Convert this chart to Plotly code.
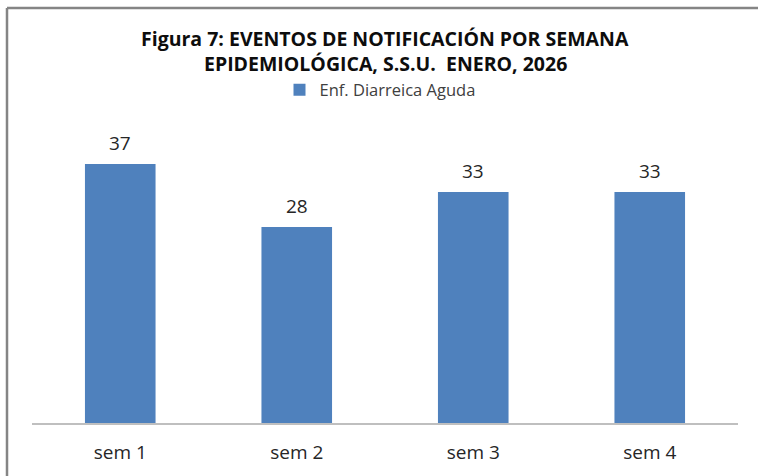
import plotly.graph_objects as go

categories = ["sem 1", "sem 2", "sem 3", "sem 4"]
values = [37, 28, 33, 33]
series_name = "Enf. Diarreica Aguda"
title_lines = ["Figura 7: EVENTOS DE NOTIFICACIÓN POR SEMANA", "EPIDEMIOLÓGICA, S.S.U.  ENERO, 2026"]

W, H = 758, 476
L, R, T, B = 32, 20, 143, 53
pw, ph = W - L - R, H - T - B
FONT = "Open Sans, sans-serif"


def py(y):
    return 1 + (T - y) / ph


def px(x):
    return (x - L) / pw


fig = go.Figure()
fig.add_trace(go.Bar(
    x=categories, y=values, name=series_name,
    marker=dict(color="#4f81bd", line=dict(width=0)),
    hoverinfo="x+y",
))

annotations = []
for c, v in zip(categories, values):
    annotations.append(dict(text=str(v), x=c, y=v, xref="x", yref="y",
                            xanchor="center", yanchor="middle", yshift=21,
                            showarrow=False,
                            font=dict(family=FONT, size=19, color="#262626")))
for line, yc in zip(title_lines, [38, 63]):
    annotations.append(dict(text="<b>" + line + "</b>", xref="paper", yref="paper",
                            x=px(385), y=py(yc), xanchor="center", yanchor="middle",
                            showarrow=False,
                            font=dict(family=FONT, size=19.5, color="#0d0d0d")))

fig.update_layout(
    width=W, height=H,
    margin=dict(l=L, r=R, t=T, b=B),
    paper_bgcolor="white", plot_bgcolor="white",
    bargap=0.6,
    showlegend=True,
    legend=dict(orientation="h", x=px(380), xanchor="center", y=py(90), yanchor="middle",
                font=dict(family=FONT, size=16.5, color="#404040"),
                itemwidth=30),
    annotations=annotations,
    xaxis=dict(showline=True, linecolor="#bfbfbf", linewidth=1.5, ticks="",
               ticklabelstandoff=11,
               tickfont=dict(family=FONT, size=19, color="#262626"),
               showgrid=False, zeroline=False),
    yaxis=dict(range=[0, 40], visible=False, showgrid=False, zeroline=False),
    shapes=[
        dict(type="line", xref="paper", yref="paper", x0=px(7), x1=px(W + 5), y0=py(8), y1=py(8),
             line=dict(color="#858585", width=2.5), layer="below"),
        dict(type="line", xref="paper", yref="paper", x0=px(7), x1=px(7), y0=py(8), y1=py(H + 5),
             line=dict(color="#858585", width=2.5), layer="below"),
    ],
)

fig.write_html("out.html", config={"displayModeBar": False},
               post_script="document.body.style.margin='0';document.body.style.overflow='hidden';")
